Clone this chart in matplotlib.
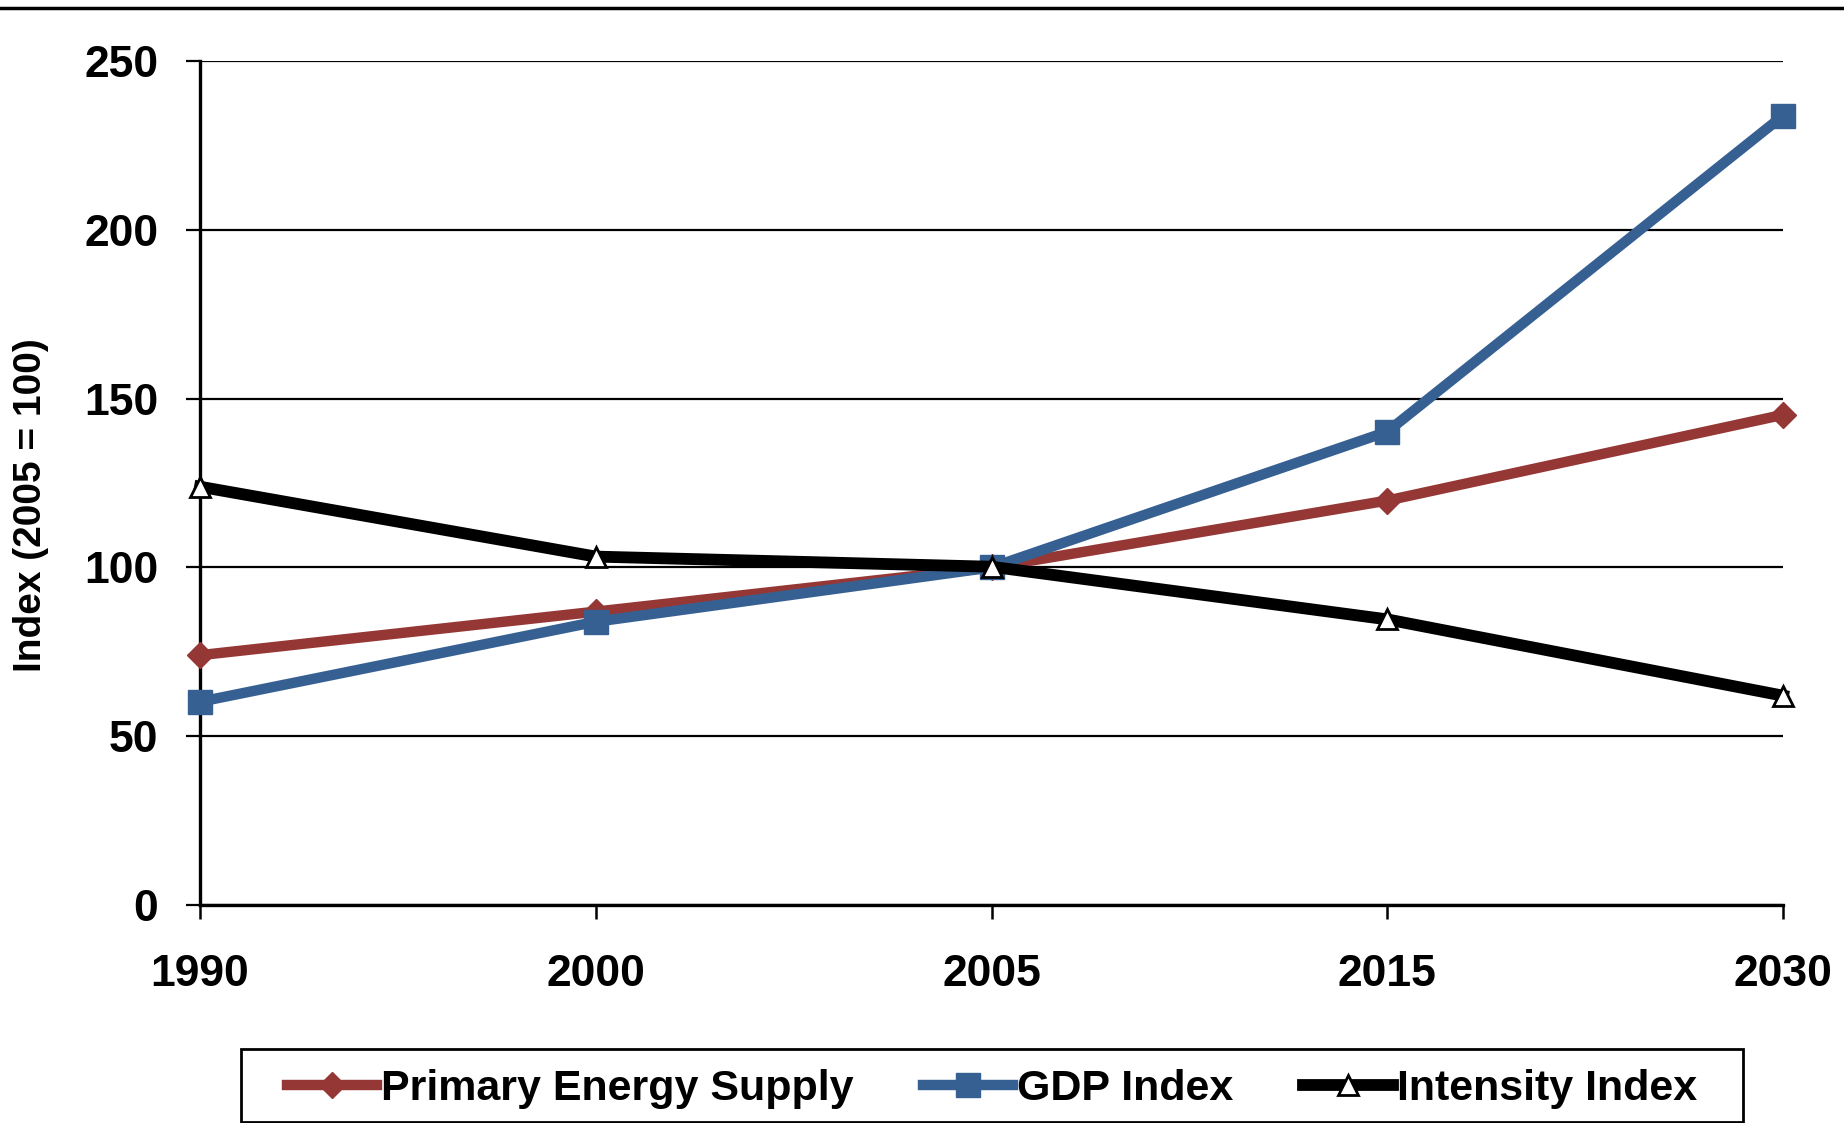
import matplotlib.pyplot as plt
from matplotlib.lines import Line2D
from matplotlib.patches import Rectangle

years = ["1990", "2000", "2005", "2015", "2030"]
primary_energy = [74.0, 86.9, 100.0, 119.8, 145.2]
gdp_index = [60.2, 83.9, 100.0, 140.2, 233.8]
intensity_index = [123.9, 103.2, 100.2, 84.6, 62.0]
y_ticks = [0, 50, 100, 150, 200, 250]

plt.rcParams["font.family"] = ["Liberation Sans", "DejaVu Sans"]
plt.rcParams["font.weight"] = "bold"

fig = plt.figure(figsize=(18.44, 11.23), dpi=100)
ax = fig.add_axes([200 / 1844, 1 - 905 / 1123, 1583 / 1844, 844 / 1123])

x = list(range(len(years)))

ax.plot(x, primary_energy, color="#953735", linewidth=7.5, marker="D",
        markersize=13, markeredgecolor="#953735", label="Primary Energy Supply",
        clip_on=False, zorder=3)
ax.plot(x, gdp_index, color="#376092", linewidth=7.5, marker="s",
        markersize=17, markeredgecolor="#376092", label="GDP Index",
        clip_on=False, zorder=4)
ax.plot(x, intensity_index, color="black", linewidth=8.5, marker="^",
        markersize=15, markerfacecolor="white", markeredgecolor="black",
        markeredgewidth=2, label="Intensity Index", clip_on=False, zorder=5)

ax.set_xlim(0, len(years) - 1)
ax.set_ylim(0, 250)
ax.set_xticks(x)
ax.set_xticklabels(years)
ax.set_yticks(y_ticks)

ax.grid(axis="y", color="black", linewidth=1.6)
ax.set_axisbelow(True)
ax.spines["top"].set_visible(False)
ax.spines["right"].set_visible(False)
ax.spines["left"].set_linewidth(2.4)
ax.spines["bottom"].set_linewidth(2.4)

ax.tick_params(axis="y", direction="out", length=10, width=1.6, pad=20,
               labelsize=32)
ax.tick_params(axis="x", direction="out", length=10, width=1.8, pad=25,
               labelsize=32)
for lbl in ax.get_xticklabels() + ax.get_yticklabels():
    lbl.set_fontweight("bold")

ax.set_ylabel("Index (2005 = 100)", fontsize=28, fontweight="bold", va="center")
ax.yaxis.set_label_coords(-0.107, 0.474)

# legend box drawn separately so its size matches the original
fig.add_artist(Rectangle((241 / 1844, 1 - 1122 / 1123), 1502 / 1844, 73 / 1123,
                         transform=fig.transFigure, fill=False,
                         edgecolor="black", linewidth=2))
fig.legend(loc="center", bbox_to_anchor=(992 / 1844, 1 - 1089 / 1123), ncol=3,
           frameon=False, handlelength=2.1, handletextpad=0.1,
           columnspacing=1.6, borderpad=0.2,
           prop={"weight": "bold", "size": 31})

fig.add_artist(Line2D([0, 1], [1 - 8 / 1123, 1 - 8 / 1123],
                      transform=fig.transFigure, color="black", linewidth=2.5))

fig.savefig("out.png", dpi=100)
